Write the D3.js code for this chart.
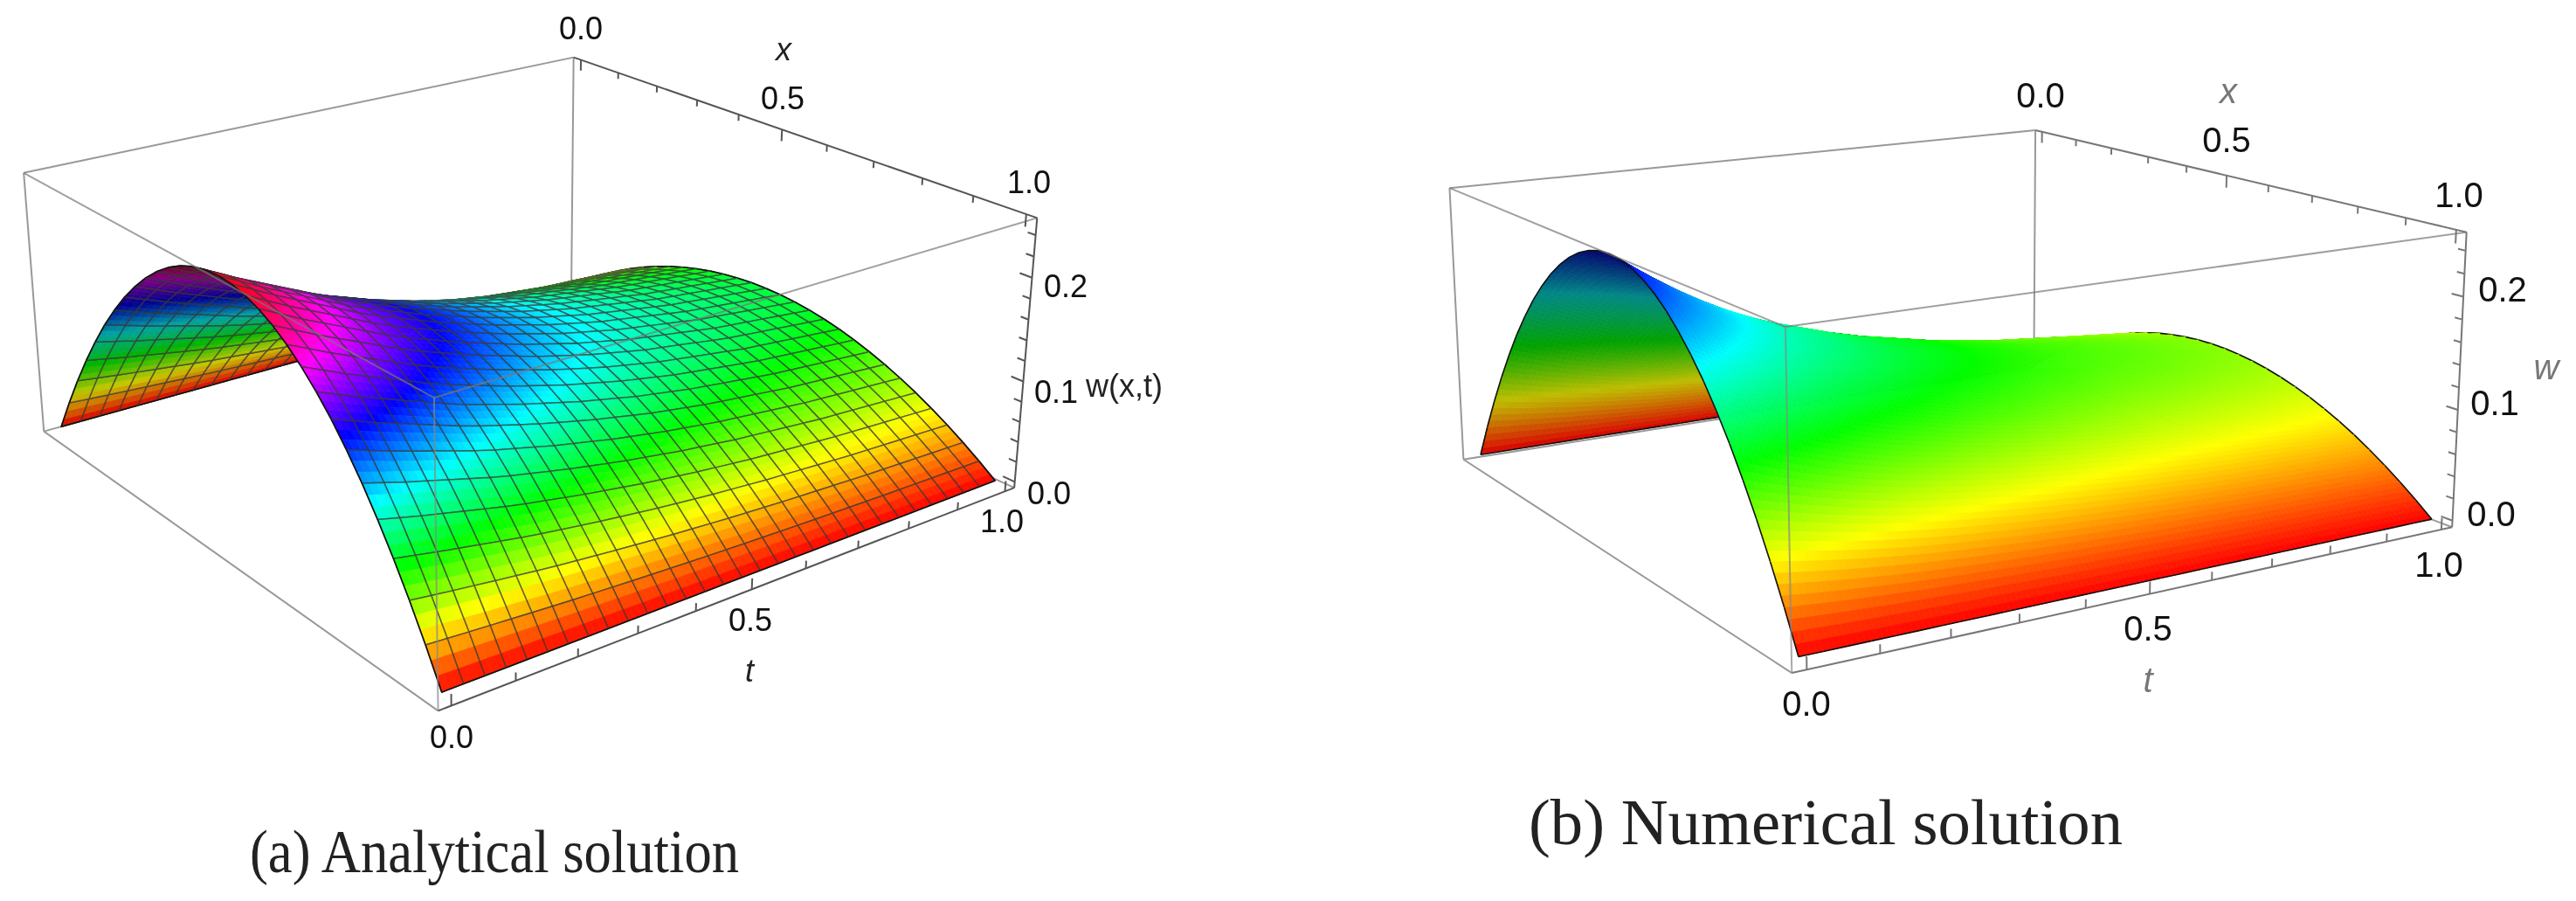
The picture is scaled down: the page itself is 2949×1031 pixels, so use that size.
<!DOCTYPE html>
<html>
<head>
<meta charset="utf-8">
<script src="https://cdn.jsdelivr.net/npm/d3@7"></script>
<style>
  html, body { margin: 0; padding: 0; background: #fff; }
  svg { display: block; filter: blur(0.6px); }
</style>
</head>
<body>
<div id="chart"></div>
<script>
// Surface values, mesh lines every 1/30 in x and t.
// w(x,t) is the height across x (share of the ridge) times the ridge height at t.
const analyticalProfile = [0, .129, .249, .36, .462, .556, .64, .716, .782, .84, .889, .929, .96, .982, .996, 1,
  .996, .982, .96, .929, .889, .84, .782, .716, .64, .556, .462, .36, .249, .129, 0];
const analyticalRidge = [.25, .24, .23, .221, .212, .203, .194, .186, .179, .172, .165, .159, .153, .147, .142, .137,
  .132, .128, .124, .12, .117, .114, .111, .108, .105, .103, .101, .099, .097, .095, .093];

const numericalProfile = [0, .129, .249, .36, .462, .556, .64, .716, .782, .84, .889, .929, .96, .982, .996, 1,
  .996, .982, .96, .929, .889, .84, .782, .716, .64, .556, .462, .36, .249, .129, 0];
const numericalRidge = [.25, .236, .223, .211, .2, .19, .181, .173, .166, .16, .154, .148, .143, .138, .134, .13,
  .126, .122, .119, .116, .113, .11, .108, .106, .104, .102, .1, .098, .096, .094, .092];

const xTicks = [0, .1, .2, .3, .4, .5, .6, .7, .8, .9, 1];
const tTicks = [0, .1, .2, .3, .4, .5, .6, .7, .8, .9, 1];
const wTicks = [0, .02, .04, .06, .08, .1, .12, .14, .16, .18, .2, .22, .24];
const xLabels = ["0.0", "0.5", "1.0"];
const tLabels = ["0.0", "0.5", "1.0"];
const wLabels = ["0.0", "0.1", "0.2"];

const panels = [
  {
    profile: analyticalProfile, ridge: analyticalRidge,
    hueTop: 360, mesh: true, sub: 3, axisTitle: "#222", tickColor: "#555", wName: "w(x,t)", wStyle: "normal",
    corners: { G: [50, 493], E: [502, 813], F: [1161, 559], C: [27, 198], D: [497, 456], B: [1187, 248], A: [657, 66] },
    fontSize: 36,
    xLabelPos: [[665, 32], [896, 112], [1178, 208]],
    tLabelPos: [[517, 843], [859, 709], [1147, 596]],
    wLabelPos: [[1201, 564], [1209, 448], [1220, 327]],
    names: { x: [897, 56], t: [858, 767], w: [1287, 441] },
    title: "(a) Analytical solution", titlePos: [566, 974], titleWidth: 560, titleSize: 70
  },
  {
    profile: numericalProfile, ridge: numericalRidge,
    hueTop: 240, mesh: false, sub: 4, axisTitle: "#777", tickColor: "#777", wName: "w", wStyle: "italic",
    corners: { G: [1675, 526], E: [2052, 770], F: [2807, 603], C: [1660, 215], D: [2043, 374], B: [2824, 266], A: [2330, 149] },
    fontSize: 40,
    xLabelPos: [[2336, 109], [2549, 160], [2815, 223]],
    tLabelPos: [[2068, 805], [2459, 719], [2792, 646]],
    wLabelPos: [[2852, 588], [2856, 461], [2865, 331]],
    names: { x: [2551, 104], t: [2459, 778], w: [2915, 420] },
    title: "(b) Numerical solution", titlePos: [2090, 941], titleWidth: 680, titleSize: 74
  }
];

const width = 2949, height = 1031;
const svg = d3.select("#chart").append("svg").attr("width", width).attr("height", height);

// unit cube position of each box corner: [along x, along t, along w]
const cubeCorners = {
  G: [0, 0, 0], E: [1, 0, 0], F: [1, 1, 0], C: [0, 0, 1], D: [1, 0, 1], B: [1, 1, 1], A: [0, 1, 1]
};

// Least squares fit of a perspective camera to the box corners
function fitCamera(corners) {
  let rows = [], rhs = [];
  Object.keys(cubeCorners).forEach(k => {
    let [u, v, s] = cubeCorners[k], [px, py] = corners[k];
    rows.push([u, v, s, 1, 0, 0, 0, 0, -px * u, -px * v, -px * s]); rhs.push(px);
    rows.push([0, 0, 0, 0, u, v, s, 1, -py * u, -py * v, -py * s]); rhs.push(py);
  });
  let n = 11;
  let m = d3.range(n).map(i => d3.range(n + 1).map(j =>
    d3.sum(rows, (r, k) => r[i] * (j < n ? r[j] : rhs[k]))));
  for (let i = 0; i < n; i++) {
    let best = i;
    for (let k = i + 1; k < n; k++) if (Math.abs(m[k][i]) > Math.abs(m[best][i])) best = k;
    [m[i], m[best]] = [m[best], m[i]];
    for (let k = 0; k < n; k++) {
      if (k === i) continue;
      let f = m[k][i] / m[i][i];
      for (let j = i; j <= n; j++) m[k][j] -= f * m[i][j];
    }
  }
  let p = d3.range(n).map(i => m[i][n] / m[i][i]);
  return (u, v, s) => {
    let d = p[8] * u + p[9] * v + p[10] * s + 1;
    return [(p[0] * u + p[1] * v + p[2] * s + p[3]) / d, (p[4] * u + p[5] * v + p[6] * s + p[7]) / d, d];
  };
}

function drawPanel(panel) {
  let g = svg.append("g");
  let project = fitCamera(panel.corners);

  let xScale = d3.scaleLinear().domain([-0.02, 1.02]).range([0, 1]);
  let tScale = d3.scaleLinear().domain([-0.02, 1.02]).range([0, 1]);
  let wScale = d3.scaleLinear().domain([-0.006, 0.256]).range([0, 1]);
  let hueScale = d3.scaleLinear().domain([0, 0.25]).range([0, panel.hueTop]);
  let shadeScale = d3.scaleLinear().domain([0, 0.25]).range([0.85, 0.42]);

  let gridStep = d3.scaleLinear().domain([0, 30]).range([0, 1]);
  let wAt = (i, j) => panel.profile[i] * panel.ridge[j];
  let toScreen = (x, t, w) => project(xScale(x), tScale(t), wScale(w));
  let line = d3.line();

  function boxLine(a, b, color, sw, opacity) {
    g.append("path").attr("d", line([a, b].map(c => project(c[0], c[1], c[2]).slice(0, 2))))
      .attr("fill", "none").attr("stroke", color).attr("stroke-width", sw).attr("opacity", opacity);
  }
  let C = { ...cubeCorners, H: [0, 1, 0] };

  // box edges behind the surface
  boxLine(C.C, C.A, "#999", 2, 1);
  boxLine(C.C, C.G, "#999", 2, 1);
  boxLine(C.A, C.H, "#999", 2, 1);
  boxLine(C.G, C.H, "#999", 2, 1);
  boxLine(C.H, C.F, "#999", 2, 1);

  // surface cells, far ones first
  let sub = panel.sub;
  let cells = [];
  d3.range(30).forEach(i => d3.range(30).forEach(j => {
    let corners = [[i, j], [i + 1, j], [i + 1, j + 1], [i, j + 1]].map(([a, b]) =>
      ({ x: gridStep(a), t: gridStep(b), w: wAt(a, b) }));
    let screen = corners.map(c => toScreen(c.x, c.t, c.w));
    cells.push({ i, j, corners, screen, depth: d3.mean(screen, s => s[2]) });
  }));
  cells.sort((a, b) => b.depth - a.depth);

  let pieces = [];
  cells.forEach(cell => {
    let c = cell.corners;
    let area = d3.polygonArea(cell.screen.map(s => [s[0], s[1]]));
    let under = area < 0;
    let bilerp = (key, a, b) =>
      c[0][key] * (1 - a) * (1 - b) + c[1][key] * a * (1 - b) + c[2][key] * a * b + c[3][key] * (1 - a) * b;
    for (let a = 0; a < sub; a++) for (let b = 0; b < sub; b++) {
      let quad = [[a, b], [a + 1, b], [a + 1, b + 1], [a, b + 1]].map(([p, q]) => {
        let s = toScreen(bilerp("x", p / sub, q / sub), bilerp("t", p / sub, q / sub), bilerp("w", p / sub, q / sub));
        return [s[0], s[1]];
      });
      let w = bilerp("w", (a + .5) / sub, (b + .5) / sub);
      let col = d3.rgb(d3.hsl(hueScale(w), 1, 0.5));
      if (under) {
        let k = shadeScale(w);
        col = d3.rgb(col.r * k, col.g * k, col.b * k);
      }
      pieces.push({ d: line(quad) + "Z", fill: col.formatHex(), stroke: col.formatHex(), sw: 0.7, op: 1 });
    }
    let pts = cell.screen.map(s => [s[0], s[1]]);
    if (panel.mesh) {
      pieces.push({ d: line(pts) + "Z", fill: "none", stroke: "#3a3a3a", sw: 1.5, op: 0.75 });
    }
    // outline of the sheet along its four borders
    if (cell.i === 0) pieces.push({ d: line([pts[3], pts[0]]), fill: "none", stroke: "#111", sw: 1.6, op: 1 });
    if (cell.i === 29) pieces.push({ d: line([pts[1], pts[2]]), fill: "none", stroke: "#111", sw: 1.6, op: 1 });
    if (cell.j === 0) pieces.push({ d: line([pts[0], pts[1]]), fill: "none", stroke: "#111", sw: 1.6, op: 1 });
    if (cell.j === 29) pieces.push({ d: line([pts[2], pts[3]]), fill: "none", stroke: "#111", sw: 1.6, op: 1 });
  });

  g.append("g").selectAll("path").data(pieces).join("path")
    .attr("d", d => d.d).attr("fill", d => d.fill).attr("stroke", d => d.stroke)
    .attr("stroke-width", d => d.sw).attr("stroke-opacity", d => d.op);

  // box edges in front of the surface
  boxLine(C.C, C.D, "#777", 2, 0.7);
  boxLine(C.D, C.B, "#777", 2, 0.7);
  boxLine(C.D, C.E, "#888", 2, 0.7);
  boxLine(C.G, C.E, "#999", 2, 1);
  boxLine(C.A, C.B, panel.tickColor, 2, 1);
  boxLine(C.E, C.F, panel.tickColor, 2, 1);
  boxLine(C.B, C.F, panel.tickColor, 2, 1);

  // ticks
  let ticks = [];
  xTicks.forEach((x, k) => {
    let len = k % 5 === 0 ? 0.045 : 0.025;
    ticks.push([[xScale(x), 1, 1], [xScale(x), 1, 1 - len]]);
  });
  tTicks.forEach((t, k) => {
    let len = k % 5 === 0 ? 0.04 : 0.028;
    ticks.push([[1, tScale(t), 0], [1, tScale(t), len]]);
  });
  wTicks.forEach((w, k) => {
    let len = k % 5 === 0 ? 0.022 : 0.014;
    ticks.push([[1, 1, wScale(w)], [1 - len, 1, wScale(w)]]);
  });
  g.append("g").selectAll("path").data(ticks).join("path")
    .attr("d", d => line(d.map(p => project(p[0], p[1], p[2]).slice(0, 2))))
    .attr("fill", "none").attr("stroke", panel.tickColor).attr("stroke-width", 2);

  // tick labels and axis names
  let labelGroup = g.append("g").attr("font-family", "'Liberation Sans', Arial, sans-serif")
    .attr("text-anchor", "middle").attr("dominant-baseline", "central").attr("fill", "#111");
  let addLabels = (labels, pos) => labels.forEach((s, k) => {
    labelGroup.append("text").attr("x", pos[k][0]).attr("y", pos[k][1]).attr("font-size", panel.fontSize).text(s);
  });
  addLabels(xLabels, panel.xLabelPos);
  addLabels(tLabels, panel.tLabelPos);
  addLabels(wLabels, panel.wLabelPos);

  let names = [["x", panel.names.x, "italic"], ["t", panel.names.t, "italic"], [panel.wName, panel.names.w, panel.wStyle]];
  names.forEach(([s, pos, style]) => {
    labelGroup.append("text").attr("x", pos[0]).attr("y", pos[1]).attr("font-size", panel.fontSize)
      .attr("font-style", style).attr("fill", panel.axisTitle).text(s);
  });

  g.append("text").attr("x", panel.titlePos[0]).attr("y", panel.titlePos[1])
    .attr("font-family", "'Liberation Serif', 'DejaVu Serif', serif").attr("font-size", panel.titleSize)
    .attr("text-anchor", "middle").attr("dominant-baseline", "central").attr("fill", "#222")
    .attr("textLength", panel.titleWidth).attr("lengthAdjust", "spacingAndGlyphs")
    .text(panel.title);
}

panels.forEach(drawPanel);
</script>
</body>
</html>
